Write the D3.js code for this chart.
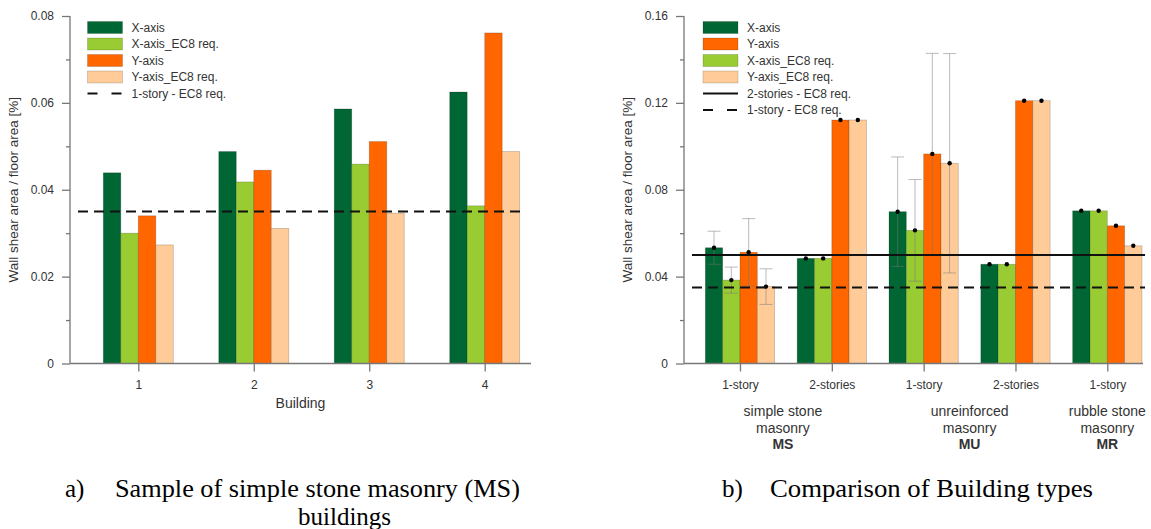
<!DOCTYPE html>
<html lang="en">
<head>
<meta charset="UTF-8">
<title>Wall shear area / floor area</title>
<script src="https://d3js.org/d3.v7.min.js"></script>
<style>
  body { margin: 0; background: #fff; }
  svg { display: block; }
  .axis text { font-family: "Liberation Sans", Arial, sans-serif; font-size: 12px; fill: #333; }
  .axis line, .axis path { stroke: #777; stroke-width: 1.3; }
  .lbl { font-family: "Liberation Sans", Arial, sans-serif; fill: #333; }
  .cap { font-family: "Liberation Serif", "Times New Roman", serif; font-size: 25px; fill: #000; }
</style>
</head>
<body>
<svg id="chart" width="1151" height="529"></svg>
<script>
// ---- data: a) simple stone masonry buildings ----
const buildings = ["1", "2", "3", "4"];
const msX    = [0.0439, 0.0488, 0.0586, 0.0625];
const msXreq = [0.0300, 0.0418, 0.0459, 0.0363];
const msY    = [0.0340, 0.0445, 0.0511, 0.0761];
const msYreq = [0.0273, 0.0311, 0.0346, 0.0488];
const req1story = 0.035;

// ---- data: b) comparison of building types ----
const typeCats   = ["1-story", "2-stories", "1-story", "2-stories", "1-story"];
const typeX      = [0.0533, 0.0484, 0.0699, 0.0457, 0.0703];
const typeXreq   = [0.0384, 0.0484, 0.0613, 0.0457, 0.0703];
const typeY      = [0.0512, 0.1121, 0.0965, 0.1210, 0.0634];
const typeYreq   = [0.0354, 0.1121, 0.0922, 0.1210, 0.0542];
const typeXerr    = [0.0076, null, 0.0252, null, null];
const typeXreqErr = [0.0060, null, 0.0234, null, null];
const typeYerr    = [0.0155, null, 0.0463, null, null];
const typeYreqErr = [0.0082, null, 0.0505, null, null];
const req2stories = 0.05;
const groupNames = [["simple stone", "masonry"], ["unreinforced", "masonry"], ["rubble stone", "masonry"]];
const groupCodes = ["MS", "MU", "MR"];
const groupSpan  = [[0, 1], [2, 3], [4, 4]];

const seriesNames = ["X-axis", "X-axis_EC8 req.", "Y-axis", "Y-axis_EC8 req."];
const colors = ["#006633", "#99cc33", "#ff6600", "#ffcc99"];

const svg = d3.select("#chart");

function drawPanel(opt) {
  const g = svg.append("g");
  const y = d3.scaleLinear().domain([0, opt.yMax]).range([363.5, 16]);
  const x0 = d3.scalePoint().domain(d3.range(opt.cats.length)).range(opt.centers);
  const x1 = d3.scaleBand().domain(d3.range(4)).range([-opt.groupW / 2, opt.groupW / 2]);

  // bars
  opt.series.forEach((vals, s) => {
    g.selectAll(null).data(vals).join("rect")
      .attr("x", (d, i) => x0(i) + x1(s))
      .attr("width", x1.bandwidth())
      .attr("y", d => y(d))
      .attr("height", d => y(0) - y(d))
      .attr("fill", colors[s])
      .attr("stroke", "rgba(0,0,0,0.22)")
      .attr("stroke-width", 0.8);
  });

  // error bars + dots
  if (opt.errs) {
    opt.errs.forEach((errs, s) => {
      errs.forEach((e, i) => {
        if (e == null) return;
        const cx = x0(i) + x1(s) + x1.bandwidth() / 2;
        const v = opt.series[s][i];
        const eg = g.append("g").attr("stroke", "rgba(120,120,120,0.5)").attr("stroke-width", 1);
        eg.append("line").attr("x1", cx).attr("x2", cx).attr("y1", y(v - e)).attr("y2", y(v + e));
        [v - e, v + e].forEach(t => eg.append("line")
          .attr("x1", cx - 6.5).attr("x2", cx + 6.5).attr("y1", y(t)).attr("y2", y(t)));
      });
    });
    opt.series.forEach((vals, s) => {
      g.selectAll(null).data(vals).join("circle")
        .attr("cx", (d, i) => x0(i) + x1(s) + x1.bandwidth() / 2)
        .attr("cy", d => y(d))
        .attr("r", 2.2)
        .attr("fill", "#000");
    });
  }

  // requirement lines
  opt.reqs.forEach(r => {
    g.append("line")
      .attr("x1", opt.axisX + 8).attr("x2", opt.reqEnd)
      .attr("y1", y(r.v)).attr("y2", y(r.v))
      .attr("stroke", "#111").attr("stroke-width", 2)
      .attr("stroke-dasharray", r.dash ? "10,6" : null);
  });

  // y axis
  const yAx = g.append("g").attr("class", "axis").attr("transform", `translate(${opt.axisX},0)`)
    .call(d3.axisLeft(y).tickValues(opt.major).tickSize(8).tickPadding(8)
      .tickFormat(d => d === 0 ? "0" : d.toFixed(2)));
  yAx.select(".domain").remove();
  g.append("g").attr("class", "axis").attr("transform", `translate(${opt.axisX},0)`)
    .call(d3.axisLeft(y).tickValues(opt.minor).tickSize(4).tickFormat(""))
    .select(".domain").remove();
  g.append("line").attr("x1", opt.axisX).attr("x2", opt.axisX).attr("y1", y(0)).attr("y2", y(opt.yMax))
    .attr("stroke", "#777").attr("stroke-width", 1.3);

  // x axis
  const xAx = g.append("g").attr("class", "axis").attr("transform", `translate(0,${y(0)})`)
    .call(d3.axisBottom(x0).tickSize(8).tickPadding(9).tickFormat(i => opt.cats[i]));
  xAx.select(".domain").remove();
  g.append("line").attr("x1", opt.axisX).attr("x2", opt.xEnd).attr("y1", y(0)).attr("y2", y(0))
    .attr("stroke", "#777").attr("stroke-width", 1.3);

  // y label
  g.append("text").attr("class", "lbl")
    .attr("transform", `translate(${opt.axisX - 52},${(y(0) + y(opt.yMax)) / 2}) rotate(-90)`)
    .attr("text-anchor", "middle").attr("font-size", 13.5)
    .text("Wall shear area / floor area [%]");

  // legend
  const lg = g.append("g").attr("transform", `translate(${opt.legX},27.5)`);
  opt.legend.forEach((it, i) => {
    const row = lg.append("g").attr("transform", `translate(0,${i * 16.5})`);
    if (it.color) {
      row.append("rect").attr("x", 0).attr("y", -6).attr("width", 35).attr("height", 12)
        .attr("fill", it.color).attr("stroke", "rgba(0,0,0,0.2)").attr("stroke-width", 0.8);
    } else {
      row.append("line").attr("x1", 0).attr("x2", 35).attr("y1", 0).attr("y2", 0)
        .attr("stroke", "#111").attr("stroke-width", 2)
        .attr("stroke-dasharray", it.dash ? "10,14" : null);
    }
    row.append("text").attr("class", "lbl").attr("x", 44).attr("dy", "0.35em")
      .attr("font-size", 12).text(it.label);
  });
  return { g, x0, y };
}

// ---- panel a ----
const pa = drawPanel({
  cats: buildings, centers: [138.3, 484.7], groupW: 70, yMax: 0.08,
  series: [msX, msXreq, msY, msYreq], axisX: 70, xEnd: 531, reqEnd: 524,
  major: [0, 0.02, 0.04, 0.06, 0.08], minor: [0.01, 0.03, 0.05, 0.07],
  reqs: [{ v: req1story, dash: true }], legX: 87.5,
  legend: [
    { label: seriesNames[0], color: colors[0] },
    { label: seriesNames[1], color: colors[1] },
    { label: seriesNames[2], color: colors[2] },
    { label: seriesNames[3], color: colors[3] },
    { label: "1-story - EC8 req.", dash: true }
  ]
});
pa.g.append("text").attr("class", "lbl").attr("x", 300.5).attr("y", 408)
  .attr("text-anchor", "middle").attr("font-size", 14).text("Building");

// ---- panel b ----
const pb = drawPanel({
  cats: typeCats, centers: [740, 1107.3], groupW: 69.3, yMax: 0.16,
  series: [typeX, typeXreq, typeY, typeYreq],
  errs: [typeXerr, typeXreqErr, typeYerr, typeYreqErr],
  axisX: 684, xEnd: 1143, reqEnd: 1145,
  major: [0, 0.04, 0.08, 0.12, 0.16], minor: [0.02, 0.06, 0.10, 0.14],
  reqs: [{ v: req2stories, dash: false }, { v: req1story, dash: true }], legX: 703,
  legend: [
    { label: seriesNames[0], color: colors[0] },
    { label: seriesNames[2], color: colors[2] },
    { label: seriesNames[1], color: colors[1] },
    { label: seriesNames[3], color: colors[3] },
    { label: "2-stories - EC8 req." },
    { label: "1-story - EC8 req.", dash: true }
  ]
});
groupNames.forEach((lines, k) => {
  const cx = (pb.x0(groupSpan[k][0]) + pb.x0(groupSpan[k][1])) / 2 + (k === 0 ? -3 : 0);
  const t = pb.g.append("text").attr("class", "lbl").attr("text-anchor", "middle").attr("font-size", 14);
  lines.forEach((ln, j) => t.append("tspan").attr("x", cx).attr("y", 416 + j * 16.5).text(ln));
  t.append("tspan").attr("x", cx).attr("y", 416 + 2 * 16.5).attr("font-weight", "bold").text(groupCodes[k]);
});

// ---- captions ----
svg.append("text").attr("class", "cap").attr("x", 65).attr("y", 497).text("a)");
svg.append("text").attr("class", "cap").attr("x", 115).attr("y", 497)
  .attr("textLength", 405).attr("lengthAdjust", "spacingAndGlyphs").text("Sample of simple stone masonry (MS)");
svg.append("text").attr("class", "cap").attr("x", 298).attr("y", 525).text("buildings");
svg.append("text").attr("class", "cap").attr("x", 722).attr("y", 497).text("b)");
svg.append("text").attr("class", "cap").attr("x", 770).attr("y", 497)
  .attr("textLength", 323).attr("lengthAdjust", "spacingAndGlyphs").text("Comparison of Building types");
</script>
</body>
</html>
